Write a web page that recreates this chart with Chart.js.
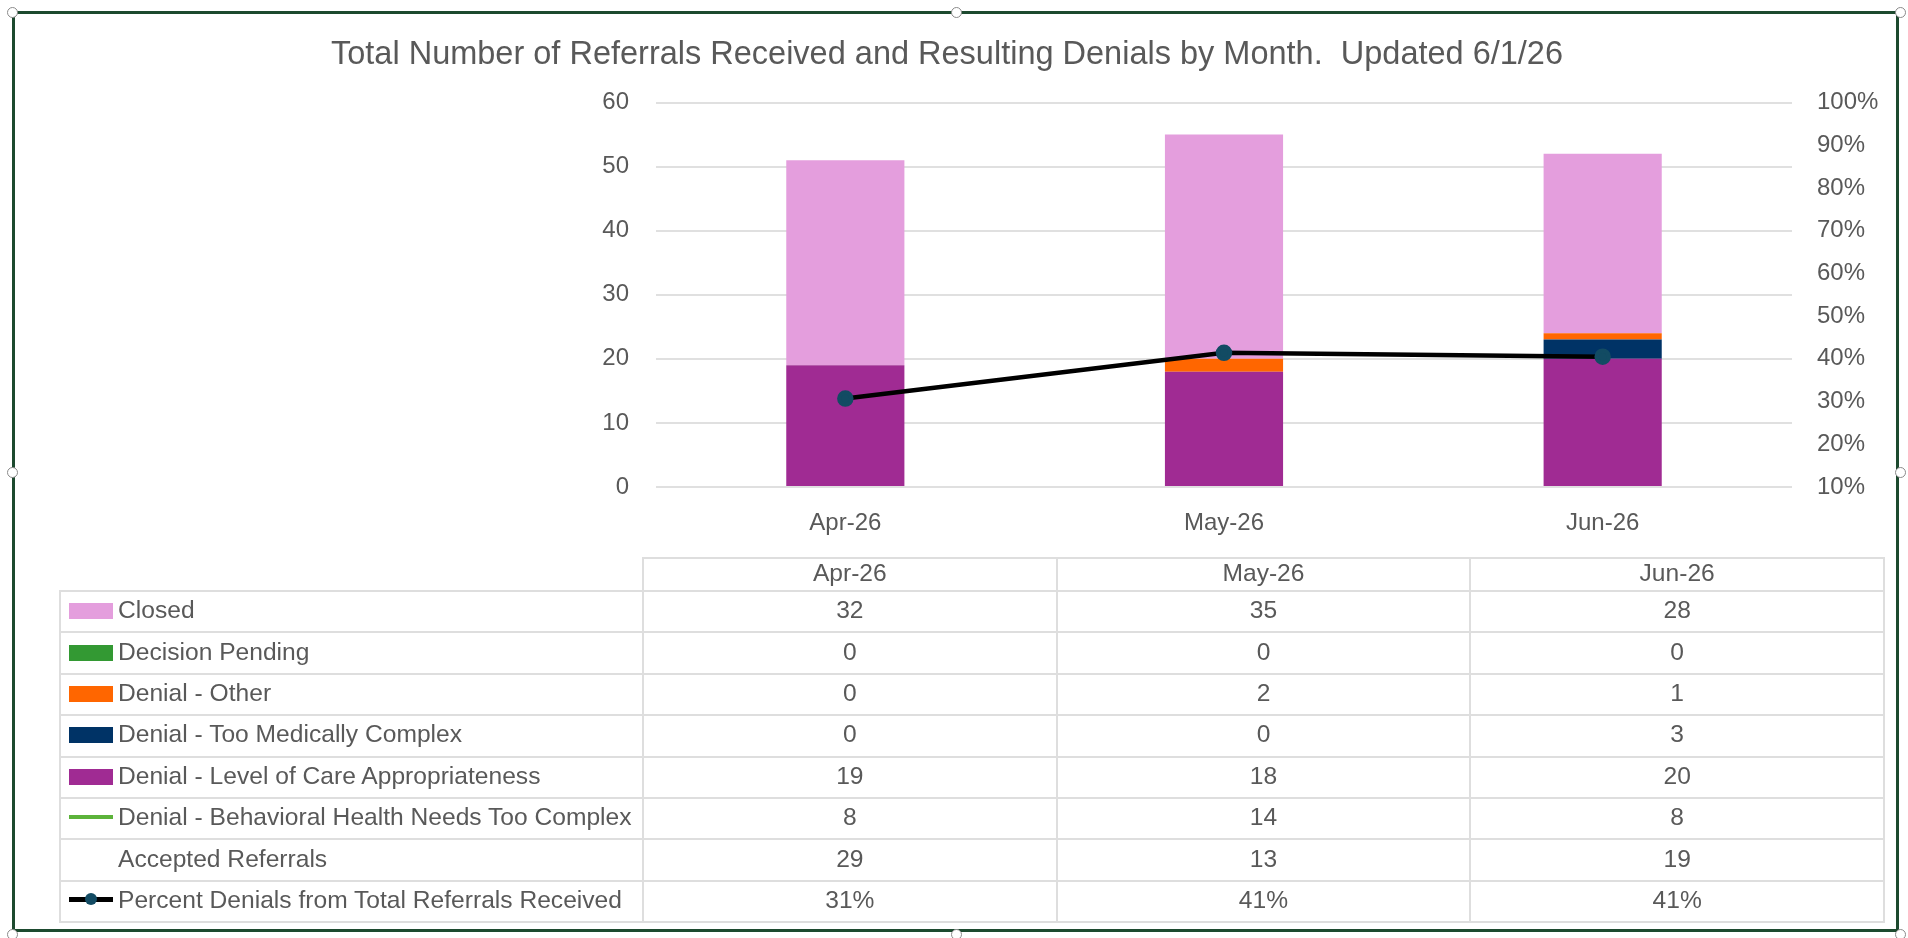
<!DOCTYPE html>
<html>
<head>
<meta charset="utf-8">
<script src="https://cdn.jsdelivr.net/npm/chart.js@4/dist/chart.umd.min.js"></script>
<style>
  body { margin: 0; background: #fff; overflow: hidden; font-family: "Liberation Sans", Arial, sans-serif; }
  #wrap { position: relative; width: 1908px; height: 938px; }
  #chart { position: absolute; left: 0; top: 0; }
  #frame { position: absolute; left: 12px; top: 11px; width: 1887px; height: 921px; border: 3px solid #1d4a2f; box-sizing: border-box; }
  .handle { position: absolute; width: 9px; height: 9px; border-radius: 50%; background: #fff; border: 1px solid #8a8a8a; }
  #dataTable { position: absolute; left: 59px; top: 557px; width: 1826px; border-collapse: collapse; table-layout: fixed; color: #595959; font-size: 24.6px; }
  #dataTable td { border: 2px solid #dedede; text-align: center; padding: 0 0 3px 0; height: 36.4px; white-space: nowrap; }
  #dataTable tr.head td { height: 28px; }
  #dataTable tr.head td.blank { border-top: none; border-left: none; }
  #dataTable td.label { text-align: left; padding-left: 8px; }
  .key { display: inline-block; width: 44px; height: 16px; margin-right: 5px; vertical-align: -1px; position: relative; }
  .key.line { height: 4px; vertical-align: 6px; }
  .key.dot::after { content: ""; position: absolute; left: 16px; top: -4px; width: 12px; height: 12px; border-radius: 50%; background: #124b63; }
</style>
</head>
<body>
<div id="wrap">
  <canvas id="chart" width="1908" height="938"></canvas>
  <table id="dataTable"></table>
  <div id="frame"></div>
</div>
<script>
// chart values
const months = ['Apr-26', 'May-26', 'Jun-26'];
const closed = [32, 35, 28];
const decisionPending = [0, 0, 0];
const denialOther = [0, 2, 1];
const denialMedical = [0, 0, 3];
const denialLevelOfCare = [19, 18, 20];
const denialBehavioral = [8, 14, 8];
const acceptedReferrals = [29, 13, 19];
const percentDenials = [0.307, 0.414, 0.405];

const countTicks = [0, 10, 20, 30, 40, 50, 60];
const percentTicks = [0.1, 0.2, 0.3, 0.4, 0.5, 0.6, 0.7, 0.8, 0.9, 1.0];

const textColor = '#595959';
const font = 'Liberation Sans, Arial, sans-serif';

const ctx = document.getElementById('chart');

new Chart(ctx, {
  data: {
    labels: months,
    datasets: [
      { type: 'line', label: 'Percent Denials from Total Referrals Received', data: percentDenials, yAxisID: 'y2',
        borderColor: '#000', borderWidth: 4.5, pointRadius: 6, pointBackgroundColor: '#124b63', pointBorderColor: '#124b63', order: 0 },
      { type: 'line', label: 'Denial - Behavioral Health Needs Too Complex', data: denialBehavioral, yAxisID: 'y2',
        borderColor: '#4ea72e', borderWidth: 3, pointRadius: 0, order: 0 },
      { type: 'bar', label: 'Denial - Level of Care Appropriateness', data: denialLevelOfCare, backgroundColor: '#a02b93', stack: 's', order: 1 },
      { type: 'bar', label: 'Denial - Too Medically Complex', data: denialMedical, backgroundColor: '#003366', stack: 's', order: 1 },
      { type: 'bar', label: 'Denial - Other', data: denialOther, backgroundColor: '#ff6600', stack: 's', order: 1 },
      { type: 'bar', label: 'Decision Pending', data: decisionPending, backgroundColor: '#339933', stack: 's', order: 1 },
      { type: 'bar', label: 'Closed', data: closed, backgroundColor: '#e49edd', stack: 's', order: 1 }
    ]
  },
  options: {
    responsive: false,
    animation: false,
    layout: { padding: { left: 0, right: 14, top: 0, bottom: 0 } },
    datasets: { bar: { categoryPercentage: 1, barPercentage: 0.312 } },
    plugins: {
      legend: { display: false },
      tooltip: { enabled: false },
      title: {
        display: true,
        text: 'Total Number of Referrals Received and Resulting Denials by Month.  Updated 6/1/26',
        color: textColor,
        font: { family: font, size: 32.5, weight: 'normal', lineHeight: 1.2 },
        padding: { top: 36, bottom: 27.5 }
      }
    },
    scales: {
      x: {
        stacked: true,
        grid: { display: false, drawTicks: false },
        border: { display: false },
        ticks: { color: textColor, font: { family: font, size: 24 }, padding: 22, maxRotation: 0 },
        afterFit: s => { s.height = 938 - 487; }
      },
      y: {
        stacked: true,
        position: 'left',
        min: countTicks[0],
        max: countTicks[countTicks.length - 1],
        afterBuildTicks: s => { s.ticks = countTicks.map(v => ({ value: v })); },
        grid: { color: '#e0e0e0', lineWidth: 2, drawTicks: false },
        border: { display: false },
        ticks: { color: textColor, font: { family: font, size: 24 }, padding: 27 },
        afterFit: s => { s.width = 656; }
      },
      y2: {
        position: 'right',
        min: percentTicks[0],
        max: percentTicks[percentTicks.length - 1],
        afterBuildTicks: s => { s.ticks = percentTicks.map(v => ({ value: v })); },
        grid: { display: false, drawTicks: false },
        border: { display: false },
        ticks: { color: textColor, font: { family: font, size: 24 }, padding: 25,
          callback: v => Math.round(v * 100) + '%' },
        afterFit: s => { s.width = 1908 - 14 - 1792; }
      }
    }
  }
});

// data table under the chart
const rows = [
  { name: 'Closed', values: closed, key: 'box', color: '#e49edd' },
  { name: 'Decision Pending', values: decisionPending, key: 'box', color: '#339933' },
  { name: 'Denial - Other', values: denialOther, key: 'box', color: '#ff6600' },
  { name: 'Denial - Too Medically Complex', values: denialMedical, key: 'box', color: '#003366' },
  { name: 'Denial - Level of Care Appropriateness', values: denialLevelOfCare, key: 'box', color: '#a02b93' },
  { name: 'Denial - Behavioral Health Needs Too Complex', values: denialBehavioral, key: 'line', color: '#5cb33a' },
  { name: 'Accepted Referrals', values: acceptedReferrals, key: 'none' },
  { name: 'Percent Denials from Total Referrals Received', values: percentDenials.map(v => Math.round(v * 100) + '%'), key: 'dot', color: '#000' }
];

const table = document.getElementById('dataTable');
let html = '<colgroup><col style="width:583px"><col><col><col></colgroup>';
html += '<tr class="head"><td class="blank"></td>' + months.map(m => '<td>' + m + '</td>').join('') + '</tr>';
rows.forEach(r => {
  let key = '';
  if (r.key == 'box') key = '<span class="key" style="background:' + r.color + '"></span>';
  else if (r.key == 'line') key = '<span class="key line" style="background:' + r.color + '"></span>';
  else if (r.key == 'dot') key = '<span class="key line dot" style="background:#000;height:5px"></span>';
  else key = '<span class="key" style="background:transparent"></span>';
  html += '<tr><td class="label">' + key + r.name + '</td>' + r.values.map(v => '<td>' + v + '</td>').join('') + '</tr>';
});
table.innerHTML = html;

// selection handles on the frame
[[12, 12], [956, 12], [1900, 12], [12, 472], [1900, 472], [12, 934], [956, 934], [1900, 934]].forEach(p => {
  const h = document.createElement('div');
  h.className = 'handle';
  h.style.left = (p[0] - 5) + 'px';
  h.style.top = (p[1] - 5) + 'px';
  document.getElementById('wrap').appendChild(h);
});
</script>
</body>
</html>
